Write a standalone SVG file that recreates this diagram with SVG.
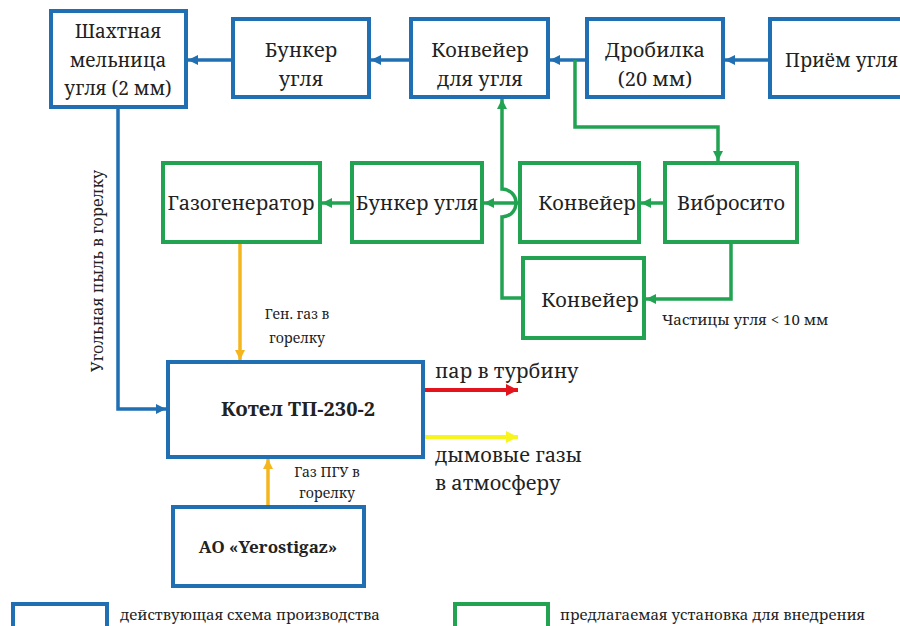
<svg xmlns="http://www.w3.org/2000/svg" width="900" height="626" viewBox="0 0 900 626" font-family="'Noto Serif', 'DejaVu Serif', serif">
<style>
.b{fill:#fff;stroke:#1f6fb2;stroke-width:4}
.g{fill:#fff;stroke:#22a352;stroke-width:4}
text{fill:#222;font-family:'Noto Serif','DejaVu Serif',serif}
.t{font-size:20px;text-anchor:middle}
.ts{font-size:19px;text-anchor:start}
.s{font-size:14px}
.c{text-anchor:middle}
.m{font-size:20px}
.cb{fill:none;stroke:#1f6fb2;stroke-width:3.5}
.cg{fill:none;stroke:#22a352;stroke-width:3.5}
</style>
<defs>
<marker id="ab" markerUnits="userSpaceOnUse" markerWidth="12" markerHeight="12" refX="10" refY="5" orient="auto"><path d="M0,0 L10,5 L0,10 z" fill="#1f6fb2"/></marker>
<marker id="ag" markerUnits="userSpaceOnUse" markerWidth="12" markerHeight="12" refX="10" refY="5" orient="auto"><path d="M0,0 L10,5 L0,10 z" fill="#22a352"/></marker>
<marker id="ao" markerUnits="userSpaceOnUse" markerWidth="12" markerHeight="12" refX="10" refY="5" orient="auto"><path d="M0,0 L10,5 L0,10 z" fill="#f4b61c"/></marker>
<marker id="ar" markerUnits="userSpaceOnUse" markerWidth="14" markerHeight="14" refX="12" refY="6" orient="auto"><path d="M0,0 L12,6 L0,12 z" fill="#e3141b"/></marker>
<marker id="ay" markerUnits="userSpaceOnUse" markerWidth="14" markerHeight="14" refX="12" refY="6" orient="auto"><path d="M0,0 L12,6 L0,12 z" fill="#f8f51e"/></marker>
</defs>
<g id="connectors">
<line class="cb" x1="770" y1="60" x2="725" y2="60" marker-end="url(#ab)"/>
<line class="cb" x1="587" y1="60" x2="550" y2="60" marker-end="url(#ab)"/>
<line class="cb" x1="411" y1="60" x2="371" y2="60" marker-end="url(#ab)"/>
<line class="cb" x1="233" y1="60" x2="188" y2="60" marker-end="url(#ab)"/>
<polyline class="cb" points="118,107 118,409 166,409" marker-end="url(#ab)"/>
<polyline class="cg" points="575,60 575,127 718,127 718,161" marker-end="url(#ag)"/>
<line class="cg" x1="665" y1="203" x2="641" y2="203" marker-end="url(#ag)"/>
<line class="cg" x1="520" y1="203" x2="484" y2="203" marker-end="url(#ag)"/>
<line class="cg" x1="352" y1="203" x2="322" y2="203" marker-end="url(#ag)"/>
<path class="cg" d="M523,298 L502,298 L502,217 A14,14 0 0 0 502,189 L502,99" marker-end="url(#ag)"/>
<polyline class="cg" points="731,242 731,299 646,299" marker-end="url(#ag)"/>
<line x1="240" y1="242" x2="240" y2="360" stroke="#f4b61c" stroke-width="3.5" marker-end="url(#ao)"/>
<line x1="268" y1="507" x2="268" y2="459" stroke="#f4b61c" stroke-width="3.5" marker-end="url(#ao)"/>
<line x1="423" y1="390" x2="518" y2="390" stroke="#e3141b" stroke-width="4" marker-end="url(#ar)"/>
<line x1="423" y1="437" x2="518" y2="437" stroke="#f8f51e" stroke-width="4" marker-end="url(#ay)"/>
</g>
<g id="mill"><rect class="b" x="51" y="11" width="135" height="96"/>
<text class="t" x="118" y="38" style="font-size:19px">Шахтная</text><text class="t" x="118" y="67" style="font-size:19px">мельница</text><text class="t" x="118" y="95" style="font-size:19px">угля (2 мм)</text></g>
<g id="bunker1"><rect class="b" x="233" y="19" width="136" height="78"/>
<text class="t" x="301" y="57">Бункер</text><text class="t" x="301" y="86">угля</text></g>
<g id="conveyor1"><rect class="b" x="411" y="19" width="137" height="78"/>
<text class="t" x="480" y="57">Конвейер</text><text class="t" x="480" y="86">для угля</text></g>
<g id="crusher"><rect class="b" x="587" y="19" width="136" height="78"/>
<text class="t" x="655" y="57">Дробилка</text><text class="t" x="655" y="86">(20 мм)</text></g>
<g id="intake"><rect class="b" x="770" y="19" width="140" height="78"/>
<text class="ts" x="785" y="67">Приём угля</text></g>
<g id="gasgen"><rect class="g" x="163" y="163" width="157" height="79"/>
<text class="t" x="241" y="210">Газогенератор</text></g>
<g id="bunker2"><rect class="g" x="352" y="163" width="130" height="79"/>
<text class="t" x="417" y="210">Бункер угля</text></g>
<g id="conveyor2"><rect class="g" x="520" y="163" width="119" height="79"/>
<text class="t" x="587" y="210">Конвейер</text></g>
<g id="sieve"><rect class="g" x="665" y="163" width="132" height="79"/>
<text class="t" x="731" y="210">Вибросито</text></g>
<g id="conveyor3"><rect class="g" x="523" y="258" width="121" height="80"/>
<text class="t" x="590" y="307">Конвейер</text></g>
<text class="s" x="662" y="325" style="font-size:15px">Частицы угля &lt; 10 мм</text>
<text class="s c" x="297" y="319">Ген. газ в</text>
<text class="s c" x="297" y="343">горелку</text>
<text class="s c" transform="translate(103,271) rotate(-90)" style="font-size:16px">Угольная пыль в горелку</text>
<g id="boiler"><rect class="b" x="168" y="362" width="255" height="95"/>
<text class="t" x="298" y="416" style="font-weight:bold;font-size:20px">Котел ТП-230-2</text></g>
<text class="m" x="435" y="378">пар в турбину</text>
<text class="m" x="435" y="462">дымовые газы</text>
<text class="m" x="435" y="490">в атмосферу</text>
<text class="s c" x="327" y="477">Газ ПГУ в</text>
<text class="s c" x="327" y="498">горелку</text>
<g id="yerostigaz"><rect class="b" x="173" y="507" width="191" height="79"/>
<text class="t" x="268" y="553" style="font-weight:bold;font-size:17px">АО «Yerostigaz»</text></g>
<g id="legend">
<rect class="b" x="13" y="604" width="94" height="30"/>
<text class="s" x="120" y="620" style="font-size:15px">действующая схема производства</text>
<rect class="g" x="455" y="604" width="93" height="30"/>
<text class="s" x="560" y="620" style="font-size:15px">предлагаемая установка для внедрения</text>
</g>
</svg>
